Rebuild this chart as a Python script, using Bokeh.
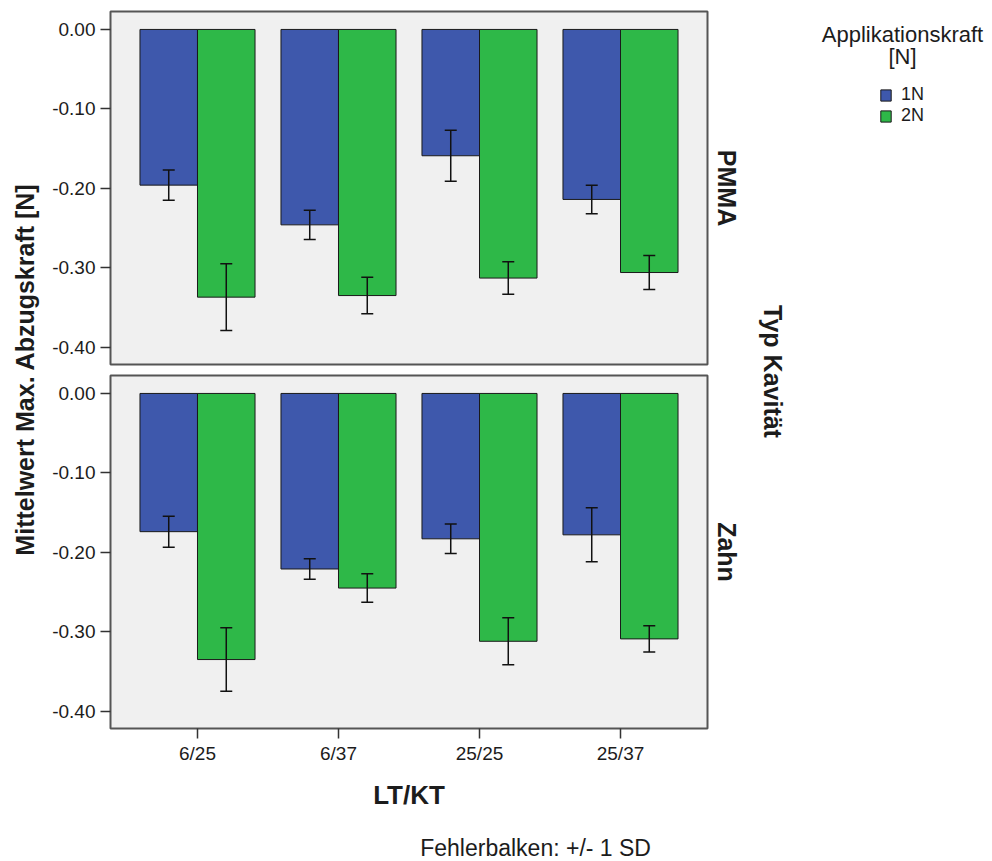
import math
import numpy as np
from bokeh.plotting import figure
from bokeh.models import (ColumnDataSource, FactorRange, Range1d, FixedTicker,
                          NumeralTickFormatter, Whisker, TeeHead, Label, Legend, LegendItem)
from bokeh.layouts import row, column
from bokeh.transform import dodge
from bokeh.embed import file_html
from bokeh.resources import INLINE

# ---------------- data ----------------
categories = ["6/25", "6/37", "25/25", "25/37"]
series_labels = ["1N", "2N"]
panel_labels = ["PMMA", "Zahn"]

pmma_1n_mean = [-0.196, -0.246, -0.159, -0.214]
pmma_1n_sd = [0.019, 0.0185, 0.032, 0.018]
pmma_2n_mean = [-0.337, -0.335, -0.313, -0.306]
pmma_2n_sd = [0.042, 0.023, 0.0205, 0.0215]

zahn_1n_mean = [-0.174, -0.221, -0.183, -0.178]
zahn_1n_sd = [0.0195, 0.013, 0.0185, 0.034]
zahn_2n_mean = [-0.335, -0.245, -0.312, -0.309]
zahn_2n_sd = [0.040, 0.018, 0.0296, 0.0165]

y_ticks = [0.0, -0.1, -0.2, -0.3, -0.4]

# ---------------- style ----------------
BLUE = "#3E58AC"
GREEN = "#2EB848"
FRAME_BG = "#F0F0F0"
OUTLINE = "#555555"
TXT = "#1c1c1c"
FONT = "Liberation Sans"
BAR_W = 0.408
OFF = 0.204


def bold_label(x, y, text, angle=0.0, size="25px"):
    return Label(x=x, y=y, text=text, angle=angle, text_align="center",
                 text_baseline="middle", text_font=FONT, text_font_size=size,
                 text_font_style="bold", text_color=TXT)


def make_panel(m1, s1, m2, s2, top_border, bottom_border, show_x):
    src = ColumnDataSource(dict(
        cat=categories,
        m1=m1, lo1=[m - s for m, s in zip(m1, s1)], hi1=[m + s for m, s in zip(m1, s1)],
        m2=m2, lo2=[m - s for m, s in zip(m2, s2)], hi2=[m + s for m, s in zip(m2, s2)],
    ))
    p = figure(
        title=None,
        x_range=FactorRange(factors=categories, range_padding=0.117,
                            range_padding_units="absolute"),
        y_range=Range1d(-0.4218, 0.0226),
        frame_width=597, frame_height=353,
        min_border_left=65, min_border_right=3,
        min_border_top=top_border, min_border_bottom=bottom_border,
        x_axis_location="below" if show_x else None,
        y_axis_location="left",
        output_backend="svg", toolbar_location=None,
    )
    p.background_fill_color = FRAME_BG
    p.border_fill_color = "white"
    p.outline_line_color = OUTLINE
    p.outline_line_width = 2
    p.grid.visible = False

    p.vbar(x=dodge("cat", -OFF, range=p.x_range), top="m1", bottom=0, width=BAR_W,
           source=src, fill_color=BLUE, line_color="#1a1a1a", line_width=1)
    p.vbar(x=dodge("cat", OFF, range=p.x_range), top="m2", bottom=0, width=BAR_W,
           source=src, fill_color=GREEN, line_color="#1a1a1a", line_width=1)

    for off, lo, hi in ((-OFF, "lo1", "hi1"), (OFF, "lo2", "hi2")):
        w = Whisker(source=src, base=dodge("cat", off, range=p.x_range),
                    lower=lo, upper=hi, dimension="height",
                    line_color="#111111", line_width=1.5, level="overlay",
                    upper_head=TeeHead(size=12, line_color="#111111", line_width=1.5),
                    lower_head=TeeHead(size=12, line_color="#111111", line_width=1.5))
        p.add_layout(w)

    yax = p.yaxis[0]
    yax.ticker = FixedTicker(ticks=y_ticks)
    yax.formatter = NumeralTickFormatter(format="0.00")
    yax.axis_line_color = None
    yax.major_tick_in = 0
    yax.major_tick_out = 10
    yax.major_tick_line_color = "#333333"
    yax.major_tick_line_width = 1.5
    yax.minor_tick_line_color = None
    yax.major_label_standoff = 5
    yax.major_label_text_font = FONT
    yax.major_label_text_font_size = "19px"
    yax.major_label_text_color = TXT

    if show_x:
        xax = p.xaxis[0]
        xax.axis_line_color = None
        xax.major_tick_in = 0
        xax.major_tick_out = 10
        xax.major_tick_line_color = "#333333"
        xax.major_tick_line_width = 1.5
        xax.major_label_standoff = 4
        xax.major_label_text_font = FONT
        xax.major_label_text_font_size = "19px"
        xax.major_label_text_color = TXT
        xax.axis_label = "LT/KT"
        xax.axis_label_text_font = FONT
        xax.axis_label_text_font_size = "26px"
        xax.axis_label_text_font_style = "bold"
        xax.axis_label_text_color = TXT
        xax.axis_label_standoff = 13
    return p


p1 = make_panel(pmma_1n_mean, pmma_1n_sd, pmma_2n_mean, pmma_2n_sd,
                top_border=11, bottom_border=5, show_x=False)
p2 = make_panel(zahn_1n_mean, zahn_1n_sd, zahn_2n_mean, zahn_2n_sd,
                top_border=6, bottom_border=95, show_x=True)


def blank(width, height, x0, x1, y_top, y_bottom):
    b = figure(title=None, width=width, height=height,
               x_range=Range1d(x0, x1), y_range=Range1d(y_bottom, y_top),
               x_axis_location=None, y_axis_location=None, min_border=0,
               output_backend="svg", toolbar_location=None)
    b.outline_line_color = None
    b.grid.visible = False
    return b


# bottom strip: error-bar note
p_bottom = blank(665, 38, 45, 710, 823, 861)
p_bottom.add_layout(Label(x=390, y=847, text="Fehlerbalken: +/- 1 SD",
                          text_align="left", text_baseline="middle",
                          text_font=FONT, text_font_size="23px", text_color=TXT))

# left strip: shared y-axis title
p_left = blank(45, 861, 0, 45, 0, 861)
p_left.add_layout(bold_label(24, 369, "Mittelwert Max. Abzugskraft [N]",
                             angle=math.pi / 2))

# right strip: facet labels, facet title and legend
p_right = blank(282, 861, 710, 992, 0, 861)
p_right.add_layout(bold_label(726, 187.5, panel_labels[0], angle=-math.pi / 2))
p_right.add_layout(bold_label(726, 551.5, panel_labels[1], angle=-math.pi / 2))
p_right.add_layout(bold_label(772, 371, "Typ Kavität", angle=-math.pi / 2))
p_right.add_layout(Label(x=902, y=34, text="Applikationskraft", text_align="center",
                         text_baseline="middle", text_font=FONT,
                         text_font_size="22px", text_color=TXT))
p_right.add_layout(Label(x=902, y=56, text="[N]", text_align="center",
                         text_baseline="middle", text_font=FONT,
                         text_font_size="22px", text_color=TXT))

nan_src = dict(x=np.array([np.nan]), top=np.array([np.nan]))
r_blue = p_right.vbar(x="x", top="top", width=1, source=ColumnDataSource(dict(nan_src)),
                      fill_color=BLUE, line_color="#1a1a1a")
r_green = p_right.vbar(x="x", top="top", width=1, source=ColumnDataSource(dict(nan_src)),
                       fill_color=GREEN, line_color="#1a1a1a")
legend = Legend(items=[LegendItem(label=series_labels[0], renderers=[r_blue]),
                       LegendItem(label=series_labels[1], renderers=[r_green])],
                location=(169, 861 - 84 - 42),
                background_fill_alpha=0, border_line_color=None,
                padding=0, margin=0, spacing=0,
                glyph_width=13, glyph_height=14, label_height=21,
                label_standoff=9, label_text_font=FONT,
                label_text_font_size="18px", label_text_color=TXT)
p_right.add_layout(legend)

layout = row(p_left, column(p1, p2, p_bottom), p_right)

with open("out.html", "w") as f:
    f.write(file_html(layout, INLINE))
